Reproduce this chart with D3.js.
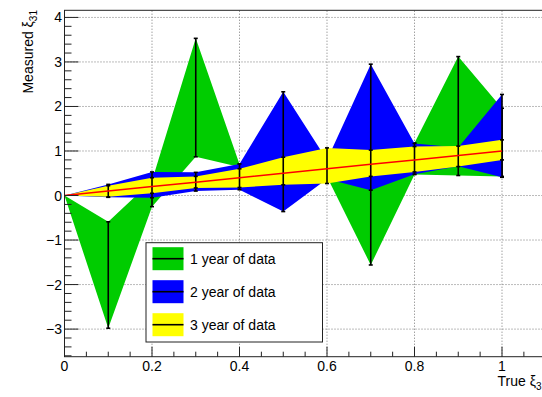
<!DOCTYPE html>
<html>
<head>
<meta charset="utf-8">
<script src="https://cdn.jsdelivr.net/npm/d3@7"></script>
<style>
  body { margin: 0; background: #fff; }
  text { font-family: "Liberation Sans", Arial, sans-serif; fill: #000; }
</style>
</head>
<body>
<div class="chart"></div>
<script>
// points along true xi_3
var trueXi = [0, 0.1, 0.2, 0.3, 0.4, 0.5, 0.6, 0.7, 0.8, 0.9, 1.0];
// red reference line (measured = true)
var refLine = [0, 0.1, 0.2, 0.3, 0.4, 0.5, 0.6, 0.7, 0.8, 0.9, 1.0];

// 1 year of data (green)
var year1Low  = [0, -2.98, -0.25, 0.87, 0.64, 0.05, 0.42, -1.56, 0.47, 0.45, 0.43];
var year1High = [0, -0.59,  0.33, 3.53, 0.70, 0.90, 0.86,  1.23, 1.18, 3.12, 1.96];
// 2 year of data (blue)
var year2Low  = [0, -0.04, -0.05, 0.10, 0.13, -0.36, 0.37, 0.12, 0.48, 0.66, 0.41];
var year2High = [0,  0.25,  0.53, 0.52, 0.71,  2.33, 0.80, 2.95, 1.17, 1.08, 2.27];
// 3 year of data (yellow)
var year3Low  = [0, -0.03, 0.05, 0.17, 0.18, 0.24, 0.27, 0.43, 0.53, 0.65, 0.80];
var year3High = [0,  0.22, 0.40, 0.43, 0.60, 0.86, 1.07, 1.02, 1.10, 1.11, 1.25];

var legendLabels = ["1 year of data", "2 year of data", "3 year of data"];
var bandColors = ["#00cc00", "#0000ff", "#ffff00"];

var xTicks = [0, 0.2, 0.4, 0.6, 0.8, 1];
var yTicks = [-3, -2, -1, 0, 1, 2, 3, 4];

var width = 542, height = 397;

var svg = d3.select(".chart").append("svg")
  .attr("width", width)
  .attr("height", height);

var xScale = d3.scaleLinear().domain([0, 1.1]).range([64.5, 545.75]);
var yScale = d3.scaleLinear().domain([-3.62, 4.16]).range([356.7, 10.3]);

var x0 = xScale(0), x1 = xScale(1.1);
var yBot = yScale(-3.62), yTop = yScale(4.16);

// grid (dotted)
var grid = svg.append("g").attr("class", "grid");
xTicks.forEach(function (t) {
  if (t === 0) return;
  grid.append("line")
    .attr("x1", xScale(t)).attr("x2", xScale(t))
    .attr("y1", yBot).attr("y2", yTop)
    .attr("stroke", "#777").attr("stroke-width", 1)
    .attr("stroke-dasharray", "1,2");
});
yTicks.forEach(function (t) {
  grid.append("line")
    .attr("x1", x0).attr("x2", x1)
    .attr("y1", yScale(t)).attr("y2", yScale(t))
    .attr("stroke", "#777").attr("stroke-width", 1)
    .attr("stroke-dasharray", "1,2");
});

var series = [
  { low: year1Low, high: year1High },
  { low: year2Low, high: year2High },
  { low: year3Low, high: year3High }
];

var area = d3.area()
  .x(function (d, i) { return xScale(trueXi[i]); })
  .y0(function (d) { return yScale(d[0]); })
  .y1(function (d) { return yScale(d[1]); });

var plot = svg.append("g").attr("class", "graphs");

series.forEach(function (s, k) {
  var pts = trueXi.map(function (x, i) { return [s.low[i], s.high[i]]; });
  plot.append("path")
    .attr("d", area(pts))
    .attr("fill", bandColors[k])
    .attr("stroke", "none");

  // error bars
  pts.forEach(function (p, i) {
    if (p[0] === p[1]) return;
    var cx = xScale(trueXi[i]);
    var g = plot.append("g").attr("stroke", "#000").attr("stroke-width", 1.6);
    g.append("line")
      .attr("x1", cx).attr("x2", cx)
      .attr("y1", yScale(p[0])).attr("y2", yScale(p[1]));
    [p[0], p[1]].forEach(function (v) {
      g.append("line")
        .attr("x1", cx - 2).attr("x2", cx + 2)
        .attr("y1", yScale(v)).attr("y2", yScale(v));
    });
  });
});

// red reference line
var line = d3.line()
  .x(function (d, i) { return xScale(trueXi[i]); })
  .y(function (d) { return yScale(d); });

plot.append("path")
  .attr("d", line(refLine))
  .attr("fill", "none")
  .attr("stroke", "#ff0000")
  .attr("stroke-width", 1.5);

// frame
svg.append("rect")
  .attr("x", x0).attr("y", yTop)
  .attr("width", x1 - x0).attr("height", yBot - yTop)
  .attr("fill", "none").attr("stroke", "#222").attr("stroke-width", 1);

// x axis ticks
var axes = svg.append("g").attr("stroke", "#222").attr("stroke-width", 1);
d3.range(0, 22).forEach(function (i) {
  var v = i * 0.05;
  var major = i % 4 === 0;
  axes.append("line")
    .attr("x1", xScale(v)).attr("x2", xScale(v))
    .attr("y1", yBot).attr("y2", yBot - (major ? 10 : 5));
});
// y axis ticks
d3.range(-18, 21).forEach(function (i) {
  var v = i * 0.2;
  var major = i % 5 === 0;
  axes.append("line")
    .attr("x1", x0).attr("x2", x0 + (major ? 14 : 7))
    .attr("y1", yScale(v)).attr("y2", yScale(v));
});

// tick labels
svg.append("g").selectAll("text")
  .data(xTicks).enter().append("text")
  .attr("x", function (d) { return xScale(d); })
  .attr("y", 371)
  .attr("text-anchor", "middle")
  .attr("font-size", "14px")
  .text(function (d) { return d3.format("")(d); });

svg.append("g").selectAll("text")
  .data(yTicks).enter().append("text")
  .attr("x", 62)
  .attr("y", function (d) { return yScale(d) + 5; })
  .attr("text-anchor", "end")
  .attr("font-size", "14px")
  .text(function (d) { return d < 0 ? "\u2212" + Math.abs(d) : d; });

// axis titles
var xt = svg.append("text")
  .attr("x", 541.5).attr("y", 386)
  .attr("text-anchor", "end")
  .attr("font-size", "14px");
xt.append("tspan").text("True \u03be");
xt.append("tspan").attr("font-size", "10px").attr("dy", 4).text("3");

var yt = svg.append("text")
  .attr("transform", "translate(33,10) rotate(-90)")
  .attr("text-anchor", "end")
  .attr("font-size", "14px");
yt.append("tspan").text("Measured \u03be");
yt.append("tspan").attr("font-size", "10px").attr("dy", 4).text("31");

// legend
var legend = svg.append("g").attr("class", "legend");
legend.append("rect")
  .attr("x", 146).attr("y", 242.7)
  .attr("width", 176.5).attr("height", 99.3)
  .attr("fill", "#fff").attr("stroke", "#222").attr("stroke-width", 1);

legendLabels.forEach(function (lab, k) {
  var cy = 258.7 + k * 33;
  legend.append("rect")
    .attr("x", 152.5).attr("y", cy - 11.5)
    .attr("width", 31).attr("height", 23)
    .attr("fill", bandColors[k]);
  legend.append("line")
    .attr("x1", 152.5).attr("x2", 183.5)
    .attr("y1", cy).attr("y2", cy)
    .attr("stroke", "#000").attr("stroke-width", 1.6);
  legend.append("text")
    .attr("x", 190).attr("y", cy + 5)
    .attr("font-size", "14px")
    .text(lab);
});
</script>
</body>
</html>
